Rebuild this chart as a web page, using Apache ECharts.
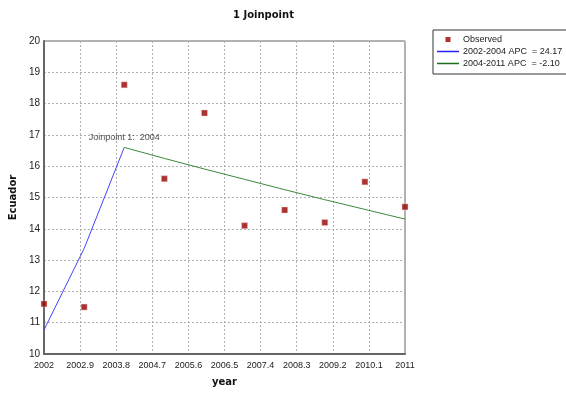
<!DOCTYPE html>
<html>
<head>
<meta charset="utf-8">
<script src="https://cdn.jsdelivr.net/npm/echarts@6/dist/echarts.min.js"></script>
<style>html,body{margin:0;padding:0;background:#fff}#c{width:566px;height:394px}</style>
</head>
<body>
<div id="c"></div>
<script>
var titleText = '1 Joinpoint';
var yName = 'Ecuador';
var xName = 'year';
var years = [2002, 2003, 2004, 2005, 2006, 2007, 2008, 2009, 2010, 2011];
var observed = [11.6, 11.5, 18.6, 15.6, 17.7, 14.1, 14.6, 14.2, 15.5, 14.7];
var seg1Years = [2002, 2003, 2004];
var seg1Values = [10.77, 13.37, 16.60];
var seg2Years = [2004, 2005, 2006, 2007, 2008, 2009, 2010, 2011];
var seg2Values = [16.60, 16.25, 15.91, 15.58, 15.25, 14.93, 14.62, 14.31];
var seriesNames = ['Observed', '2002-2004 APC  = 24.17', '2004-2011 APC  = -2.10'];
var joinpointLabel = 'Joinpoint 1:  2004';
var joinpointYear = 2004, joinpointValue = 16.60;
var xMin = 2002, xMax = 2011, xStep = 0.9;
var yMin = 10, yMax = 20, yStep = 1;

function pairs(xs, ys) { return xs.map(function (x, i) { return [x, ys[i]]; }); }

var lineIcon = 'path://M0,0H22V1.5H0Z';

var chart = echarts.init(document.getElementById('c'), null, { renderer: 'canvas' });
chart.setOption({
  animation: false,
  backgroundColor: '#fff',
  title: {
    text: titleText, left: 228, top: 5,
    textStyle: { fontFamily: 'DejaVu Sans', fontWeight: 'bold', fontSize: 10, color: '#111' }
  },
  legend: {
    orient: 'vertical', left: 433, top: 30,
    borderColor: '#333', borderWidth: 1, padding: [5, 10, 6, 4],
    itemWidth: 22, itemHeight: 5, itemGap: 3,
    textStyle: { fontFamily: 'Liberation Sans', fontSize: 9, color: '#222', padding: [0, 0, 0, -1] },
    data: [
      { name: seriesNames[0], icon: 'path://M0,0H1V1H0Z', itemStyle: { borderWidth: 0, color: '#990000' } },
      { name: seriesNames[1], icon: lineIcon, itemStyle: { color: '#2222ff', borderWidth: 0 } },
      { name: seriesNames[2], icon: lineIcon, itemStyle: { color: '#1a701a', borderWidth: 0 } }
    ]
  },
  grid: { left: 43, right: 161, top: 41, bottom: 40, show: true, borderColor: '#666', borderWidth: 1 },
  xAxis: {
    type: 'value', min: xMin, max: xMax, interval: xStep,
    name: xName, nameLocation: 'middle', nameGap: 23,
    nameTextStyle: { fontFamily: 'DejaVu Sans', fontWeight: 'bold', fontSize: 10, color: '#111' },
    axisLine: { show: true, onZero: false, lineStyle: { color: '#666', width: 2 } },
    axisTick: { show: false },
    axisLabel: { margin: 7, fontFamily: 'Liberation Sans', fontSize: 9, color: '#222',
      showMinLabel: true, showMaxLabel: true,
      formatter: function (v) { return String(+(+v).toFixed(1)); } },
    splitLine: { show: true, lineStyle: { color: '#b0b0b0', type: [2, 2], width: 1 } }
  },
  yAxis: {
    type: 'value', min: yMin, max: yMax, interval: yStep,
    name: yName, nameLocation: 'middle', nameGap: 26,
    nameTextStyle: { fontFamily: 'DejaVu Sans', fontWeight: 'bold', fontSize: 10, color: '#111' },
    axisLine: { show: true, lineStyle: { color: '#666', width: 2 } },
    axisTick: { show: false },
    axisLabel: { margin: 4, fontFamily: 'Liberation Sans', fontSize: 10, color: '#222' },
    splitLine: { show: true, lineStyle: { color: '#b0b0b0', type: [2, 2], width: 1 } }
  },
  series: [
    {
      name: seriesNames[0], type: 'scatter', symbol: 'rect', symbolSize: 6,
      itemStyle: { color: '#990000', borderColor: '#f0d0d0', borderWidth: 0.5 },
      data: pairs(years, observed), z: 5
    },
    {
      name: seriesNames[1], type: 'line', symbol: 'none', showSymbol: false,
      lineStyle: { color: '#4444ff', width: 1 }, itemStyle: { color: '#4444ff' },
      data: pairs(seg1Years, seg1Values), z: 3
    },
    {
      name: seriesNames[2], type: 'line', symbol: 'none', showSymbol: false,
      lineStyle: { color: '#3a8a3a', width: 1 }, itemStyle: { color: '#3a8a3a' },
      data: pairs(seg2Years, seg2Values), z: 3
    },
    {
      name: 'joinpoint', type: 'scatter', symbolSize: 1, silent: true,
      itemStyle: { color: 'rgba(0,0,0,0)' },
      label: { show: true, position: 'top', distance: 5, formatter: joinpointLabel,
        fontFamily: 'Liberation Sans', fontSize: 9, color: '#222' },
      data: [[joinpointYear, joinpointValue]], z: 6
    }
  ]
});
</script>
</body>
</html>
